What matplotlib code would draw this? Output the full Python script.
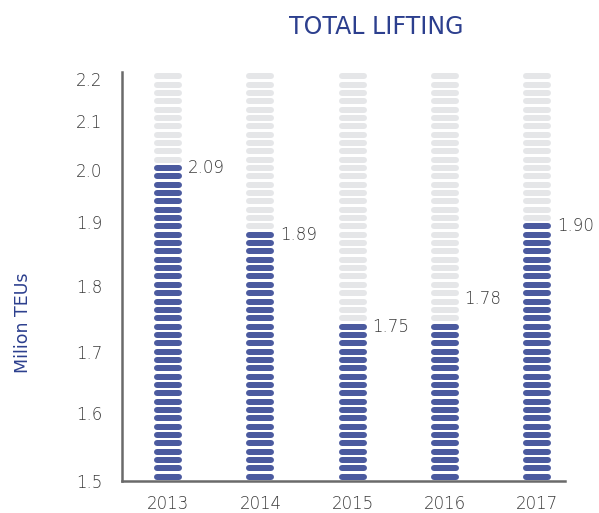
"""Total lifting, stacked-segment columns."""

import numpy as np
import matplotlib
matplotlib.use('Agg')
import matplotlib.pyplot as plt

years = ['2013', '2014', '2015', '2016', '2017']
drawnHeights = [2.01, 1.89, 1.75, 1.75, 1.90]   # column heights as drawn on the axis
valueLabels = ['2.09', '1.89', '1.75', '1.78', '1.90']
labelLift = [0, 0, 0, 20, 0]                     # points, 2016 label sits higher
yTicks = [1.5, 1.6, 1.7, 1.8, 1.9, 2.0, 2.1, 2.2]

# the printed axis is not linear: tick value -> height (px from baseline)
scaleVals = [1.4, 1.5, 1.6, 1.7, 1.8, 1.9, 2.0, 2.1, 2.2, 2.3]
scalePos = [-68, 0, 68, 129, 195, 259, 311, 360, 402, 444]

def forward(v):
    return np.interp(v, scaleVals, scalePos)

def inverse(p):
    return np.interp(p, scalePos, scaleVals)

blue = '#4b5a9f'
grey = '#e5e6e8'
textGrey = '#3a3a3a'
titleBlue = '#2c3f8e'

plt.rcParams['font.family'] = ['DejaVu Sans']

fig = plt.figure(figsize=(5.99, 5.13), dpi=100)
ax = fig.add_axes([122/599, 1 - 481/513, 443/599, 409/513])
ax.set_yscale('function', functions=(forward, inverse))

topPos = 409
nSeg = 49
pitch = topPos / nSeg
segCenters = inverse((np.arange(nSeg) + 0.5) * pitch)
halfLen = 0.119
segWidth = 6 * 72 / 100

for i, (h, lab, lift) in enumerate(zip(drawnHeights, valueLabels, labelLift)):
    nBlue = int(round(forward(h) / pitch))
    ax.hlines(segCenters[nBlue:], i - halfLen, i + halfLen, colors=grey,
              linewidth=segWidth, capstyle='round', clip_on=False)
    ax.hlines(segCenters[:nBlue], i - halfLen, i + halfLen, colors=blue,
              linewidth=segWidth, capstyle='round', clip_on=False)
    ax.annotate(lab, (i + 0.21, segCenters[nBlue - 1]), xytext=(0, lift),
                textcoords='offset points', ha='left', va='center',
                fontsize=12, color=textGrey, fontweight='light')

ax.set_xlim(-0.5, 4.3)
ax.set_ylim(1.5, inverse(topPos))
ax.set_xticks(range(len(years)))
ax.set_xticklabels(years)
ax.set_yticks(yTicks)
ax.set_yticklabels(['%.1f' % t for t in yTicks])
ax.tick_params(axis='both', length=0, labelsize=12, labelcolor=textGrey)
ax.tick_params(axis='y', pad=14)
ax.tick_params(axis='x', pad=10)
for t in ax.get_xticklabels() + ax.get_yticklabels():
    t.set_fontweight('light')

for side in ('top', 'right'):
    ax.spines[side].set_visible(False)
for side in ('left', 'bottom'):
    ax.spines[side].set_color('#6a6a6a')
    ax.spines[side].set_linewidth(1.8)

ax.set_ylabel('Milion TEUs', fontsize=12.5, color=titleBlue)
ax.yaxis.set_label_coords(-0.203, 0.386)

fig.text(376/599, 1 - 27/513, 'TOTAL LIFTING', ha='center', va='center',
         fontsize=17, color=titleBlue)

fig.savefig('out.png', dpi=100)
